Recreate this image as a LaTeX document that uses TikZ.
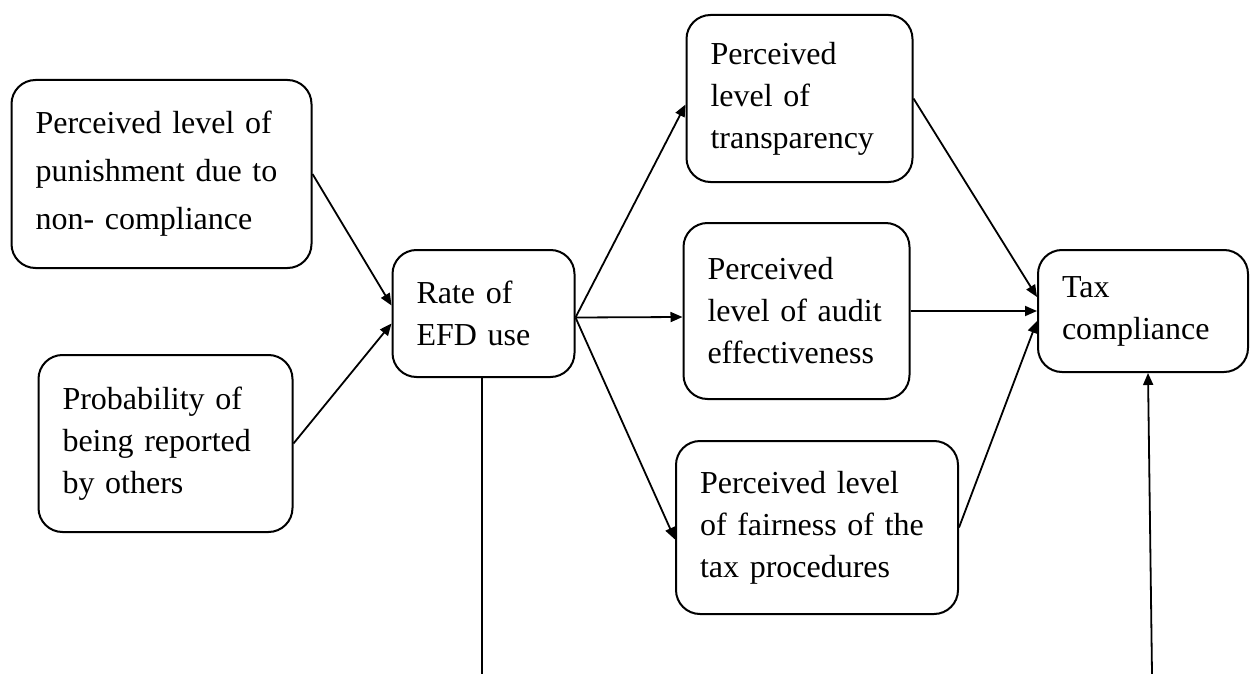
\documentclass[tikz,border=0pt]{standalone}
\usepackage{fontspec}
\setmainfont{Liberation Serif}
\usetikzlibrary{arrows.meta}

\newcommand{\unitpx}{0.5pt}

\begin{document}
\begin{tikzpicture}[x = \unitpx, y = -\unitpx,
  box/.style = {draw, line width = 1pt, rounded corners = 12pt, align = left,
    inner xsep = 12pt, inner ysep = 0pt, font = \fontsize{16}{21}\selectfont},
  arr/.style = {line width = 0.9pt, -{Triangle[length = 6pt, width = 5pt]}}]

\useasboundingbox (0,0) rectangle (1253,674);

\node [box, text width = 126pt, minimum height = 94pt, font = \fontsize{16}{24}\selectfont] (v1) at (161.5,174) {Perceived level of\\ punishment due to\\ non- compliance};
\node [box, text width = 103pt, minimum height = 88.5pt] (v2) at (165.5,443.5) {Probability of\\ being reported\\ by others};
\node [box, text width = 67pt, minimum height = 63.5pt] (v3) at (483.5,313.5) {Rate of\\ EFD use};

\node [box, text width = 89pt, minimum height = 83.5pt] (v4) at (799.5,98.5) {Perceived\\ level of\\ transparency};
\node [box, text width = 89pt, minimum height = 88pt] (v5) at (796.5,311) {Perceived\\ level of audit\\ effectiveness};
\node [box, text width = 117pt, minimum height = 86.5pt] (v6) at (817,527.5) {Perceived level\\ of fairness of the\\ tax procedures};

\node [box, text width = 81pt, minimum height = 61pt] (v7) at (1143,311) {Tax\\ compliance};

\coordinate (c1) at (482,674);
\coordinate (c2) at (1152,674);

\draw [arr] (v1.east) -- ([yshift = 4pt]v3.west);
\draw [arr] (v2.east) -- ([yshift = -5pt]v3.west);
\draw [arr] ([yshift = -2pt]v3.east) -- ([yshift = -3pt]v4.west);
\draw [arr] ([yshift = -2pt]v3.east) -- ([yshift = -3pt]v5.west);
\draw [arr] ([yshift = -2pt]v3.east) -- ([yshift = -6pt]v6.west);
\draw [arr] (v4.east) -- ([yshift = 7pt]v7.west);
\draw [arr] (v5.east) -- (v7.west);
\draw [arr] (v6.east) -- ([yshift = -5pt]v7.west);
\draw [line width = 0.9pt] ([xshift = -0.75pt]v3.south) -- (c1);
\draw [arr] (c2) -- ([xshift = 2.5pt]v7.south);
\end{tikzpicture}
\end{document}
